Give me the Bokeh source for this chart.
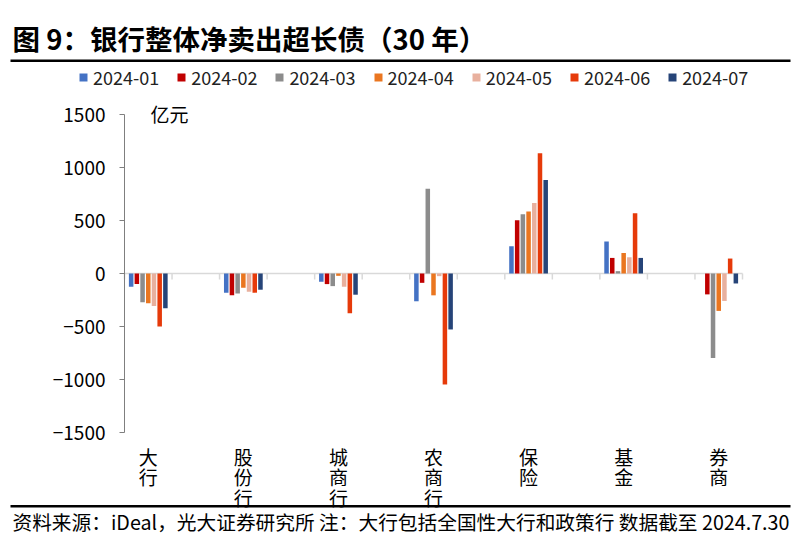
from bokeh.plotting import figure
from bokeh.models import (Range1d, FixedTicker, Legend, LegendItem, Label,
                          BoxAnnotation)
from bokeh.embed import file_html
from bokeh.resources import INLINE

# ---------------- data ----------------
categories = ["大行", "股份行", "城商行", "农商行", "保险", "基金", "券商"]
months = ["2024-01", "2024-02", "2024-03", "2024-04", "2024-05", "2024-06", "2024-07"]
v_2024_01 = [-125, -181, -78, -262, 256, 303, 0]
v_2024_02 = [-100, -206, -100, -88, 503, 147, -197]
v_2024_03 = [-272, -188, -119, 800, 559, 22, -797]
v_2024_04 = [-281, -134, -22, -206, 584, 194, -353]
v_2024_05 = [-306, -172, -125, -25, 666, 153, -259]
v_2024_06 = [-500, -181, -375, -1047, 1134, 569, 141]
v_2024_07 = [-328, -153, -200, -528, 881, 147, -94]
series = [v_2024_01, v_2024_02, v_2024_03, v_2024_04, v_2024_05, v_2024_06, v_2024_07]
colors = ["#4472C4", "#C00000", "#8C8C8C", "#EA7620", "#E8B09E", "#E63A0A", "#264478"]
y_ticks = [-1500, -1000, -500, 0, 500, 1000, 1500]
title_text = "图 9：银行整体净卖出超长债（30 年）"
unit_text = "亿元"
source_text = "资料来源：iDeal，光大证券研究所 注：大行包括全国性大行和政策行 数据截至 2024.7.30"

# ---------------- layout geometry (pixels) ----------------
CJK = "Noto Sans CJK SC"
W, H = 805, 543
AX_LEFT_PX, AX_RIGHT_PX = 124.0, 742.0
Y_TOP_PX, Y_BOT_PX = 114.0, 432.0
n_slots = 2 * len(categories) - 1
slot_px = (AX_RIGHT_PX - AX_LEFT_PX) / n_slots
y_lo, y_hi = y_ticks[0], y_ticks[-1]
px_per_unit = (Y_BOT_PX - Y_TOP_PX) / (y_hi - y_lo)


def px_to_x(px):
    return -0.5 + (px - AX_LEFT_PX) / slot_px


def py_to_y(py):
    return y_hi - (py - Y_TOP_PX) / px_per_unit


cat_x = [2 * i for i in range(len(categories))]

p = figure(width=W, height=H,
           x_range=Range1d(px_to_x(0), px_to_x(W)),
           y_range=Range1d(py_to_y(H), py_to_y(0)),
           output_backend="svg", toolbar_location=None,
           min_border=0, min_border_left=0, min_border_right=0,
           min_border_top=0, min_border_bottom=0)
p.outline_line_color = None
p.xgrid.visible = False
p.ygrid.visible = False

# zero line with category-boundary tick marks
bounds = [k - 0.5 for k in range(n_slots + 1)]
tick_len = 6 / px_per_unit
p.segment(x0=[bounds[0]], y0=[0], x1=[bounds[-1]], y1=[0],
          line_color="#D9D9D9", line_width=1.5, level="underlay")
p.segment(x0=bounds, y0=[0] * len(bounds), x1=bounds, y1=[-tick_len] * len(bounds),
          line_color="#D9D9D9", line_width=1.5, level="underlay")

pitch = 0.12
items = []
for j, (m, vals, c) in enumerate(zip(months, series, colors)):
    xs = [x + (j - 3) * pitch for x in cat_x]
    r = p.vbar(x=xs, top=vals, bottom=0, width=0.095, fill_color=c, line_color=None)
    items.append(LegendItem(label=m, renderers=[r]))

# y axis
ya = p.yaxis[0]
ya.fixed_location = -0.5
ya.bounds = (y_lo, y_hi)
ya.ticker = FixedTicker(ticks=y_ticks)
ya.axis_line_color = "#7F7F7F"
ya.major_tick_line_color = "#7F7F7F"
ya.major_tick_out = 5
ya.major_tick_in = 0
ya.minor_tick_line_color = None
ya.major_label_text_font = CJK
ya.major_label_text_font_size = "19px"
ya.major_label_text_color = "#000000"
ya.major_label_standoff = 14

# x axis with stacked category labels
xa = p.xaxis[0]
xa.fixed_location = y_lo
xa.ticker = FixedTicker(ticks=cat_x)
xa.major_label_overrides = {x: "\n".join(c) for x, c in zip(cat_x, categories)}
xa.axis_line_color = None
xa.major_tick_line_color = None
xa.major_tick_out = 0
xa.major_tick_in = 0
xa.minor_tick_line_color = None
xa.major_label_text_font = CJK
xa.major_label_text_font_size = "19px"
xa.major_label_text_line_height = 0.76
xa.major_label_text_color = "#000000"
xa.major_label_standoff = 10

legend = Legend(items=items, orientation="horizontal", location=(78, H - 90),
                glyph_width=10, glyph_height=10, label_standoff=5, spacing=17,
                padding=0, margin=0, border_line_color=None, background_fill_alpha=0,
                label_text_font=CJK, label_text_font_size="18px", label_text_color="#222222")
p.add_layout(legend)

p.add_layout(Label(x=px_to_x(12), y=py_to_y(37), text=title_text,
                   text_font=CJK, text_font_size="27.5px", text_font_style="bold",
                   text_baseline="middle", text_color="#000000"))
p.add_layout(Label(x=px_to_x(150), y=py_to_y(113), text=unit_text,
                   text_font=CJK, text_font_size="19px", text_baseline="middle",
                   text_color="#000000"))
p.add_layout(Label(x=px_to_x(12), y=py_to_y(521), text=source_text,
                   text_font=CJK, text_font_size="19.7px", text_baseline="middle",
                   text_color="#000000"))
for top_px, bot_px in [(59.0, 61.5), (504.5, 507.0)]:
    p.add_layout(BoxAnnotation(left=px_to_x(10), right=px_to_x(790),
                               top=py_to_y(top_px), bottom=py_to_y(bot_px),
                               fill_color="#000000", fill_alpha=1, line_color=None))

open("out.html", "w").write(file_html(p, INLINE))
